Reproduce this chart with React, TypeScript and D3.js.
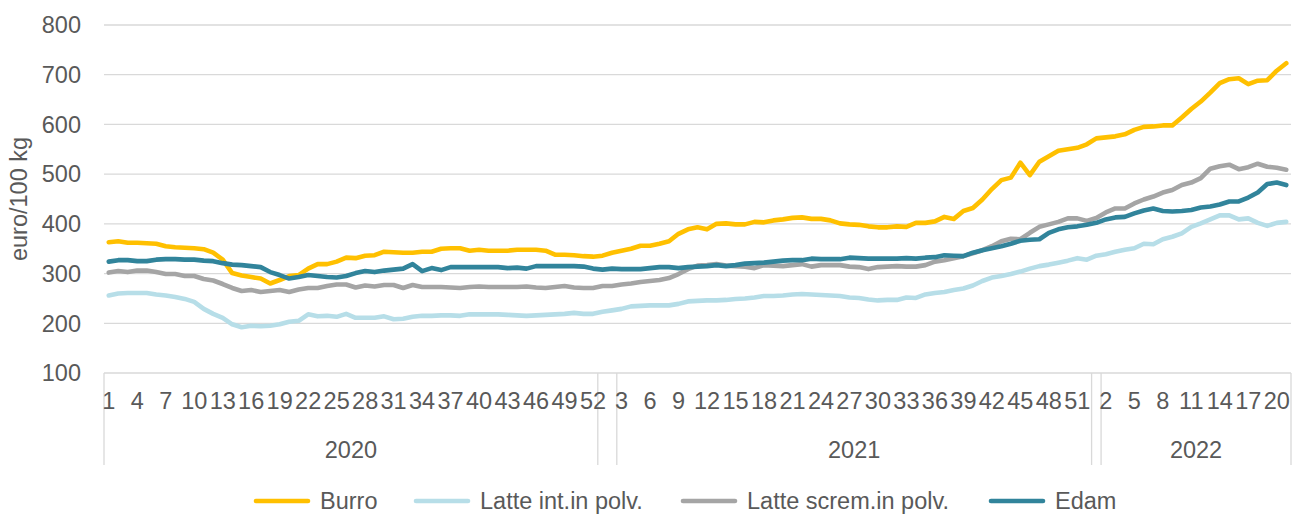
import { useEffect, useRef } from 'react';
import * as d3 from 'd3';

// week labels per year group (the two small unnamed groups sit at the turn of the year)
const weeks2020 = ['1','2','3','4','5','6','7','8','9','10','11','12','13','14','15','16','17','18','19','20','21','22','23','24','25','26','27','28','29','30','31','32','33','34','35','36','37','38','39','40','41','42','43','44','45','46','47','48','49','50','51','52'];
const weeksTurn1 = ['1', '2'];
const weeks2021 = ['3','4','5','6','7','8','9','10','11','12','13','14','15','16','17','18','19','20','21','22','23','24','25','26','27','28','29','30','31','32','33','34','35','36','37','38','39','40','41','42','43','44','45','46','47','48','49','50','51','52'];
const weeksTurn2 = ['1'];
const weeks2022 = ['2','3','4','5','6','7','8','9','10','11','12','13','14','15','16','17','18','19','20','21'];

const yearGroups = [
  { year: '2020', weeks: weeks2020 },
  { year: '', weeks: weeksTurn1 },
  { year: '2021', weeks: weeks2021 },
  { year: '', weeks: weeksTurn2 },
  { year: '2022', weeks: weeks2022 },
];

const yTicks = [100, 200, 300, 400, 500, 600, 700, 800];

const burro = [
  363,365,362,362,361,360,355,353,352,351,349,342,328,301,296,293,290,280,287,295,297,310,319,319,324,332,331,336,337,344,343,342,342,344,344,350,351,351,346,348,346,346,
  346,348,348,348,346,338,338,337,335,334,336,342,346,350,356,356,360,365,380,389,393,389,400,401,399,399,404,403,407,409,412,413,410,410,407,401,399,398,395,393,393,395,
  394,402,402,405,414,410,426,432,449,470,488,493,523,498,525,536,547,550,553,560,572,574,576,580,589,595,596,598,598,614,631,646,664,683,691,693,681,688,689,708,723,
];
const latteInt = [
  256,260,261,261,261,258,256,253,249,243,229,219,211,198,192,195,194,195,198,203,205,218,214,215,213,219,211,211,211,214,208,209,213,215,215,216,216,215,218,218,218,218,
  217,216,215,216,217,218,219,221,219,219,223,226,229,234,235,236,236,236,239,244,245,246,246,247,249,250,252,255,255,256,258,259,258,257,256,255,252,251,248,246,247,247,
  252,251,258,261,263,267,270,276,285,292,295,299,304,310,315,318,322,326,331,328,336,339,344,348,351,360,359,369,374,381,394,401,409,417,417,409,411,402,396,402,404,
];
const latteScrem = [
  302,305,303,306,306,303,299,299,295,295,289,286,279,271,265,267,263,265,267,263,268,271,271,275,278,278,272,276,274,277,277,271,277,273,273,273,272,271,273,274,273,273,
  273,273,274,272,271,273,275,272,271,271,275,275,278,280,283,285,287,291,299,309,316,317,319,316,315,314,311,317,316,315,317,319,314,317,317,317,314,313,309,313,314,315,
  314,314,317,324,327,331,335,341,347,355,365,370,369,382,394,399,404,411,411,406,412,423,431,431,441,449,455,463,468,478,483,492,511,516,519,510,514,521,515,513,509,
];
const edam = [
  324,327,327,325,325,328,329,329,328,328,326,325,321,318,317,315,313,303,297,290,293,297,295,293,292,295,301,305,303,306,308,310,319,305,311,307,313,313,313,313,313,313,
  311,312,310,315,315,315,315,315,314,310,308,310,309,309,309,311,313,313,311,313,314,315,317,315,317,320,321,322,324,326,327,327,330,329,329,329,332,331,330,330,330,330,
  331,330,332,333,337,336,335,342,347,351,355,360,366,368,369,382,389,393,395,398,402,409,413,414,421,427,431,426,425,426,428,433,435,439,445,445,453,463,480,483,478,
];

const series = [
  { name: 'Burro', color: '#FFC000', values: burro },
  { name: 'Latte int.in polv.', color: '#B7DEE8', values: latteInt },
  { name: 'Latte screm.in polv.', color: '#A5A5A5', values: latteScrem },
  { name: 'Edam', color: '#31849B', values: edam },
];

const FONT = '"Liberation Sans", Arial, sans-serif';
const TEXT = '#595959';
const GRID = '#D9D9D9';

export default function App() {
  const svgRef = useRef<SVGSVGElement>(null);

  useEffect(() => {
    if (!svgRef.current) return;
    const svg = d3.select(svgRef.current);
    svg.selectAll('*').remove();

    const width = 1293;
    const height = 514;
    const left = 104;
    const right = 1291;
    const top = 25;
    const bottom = 373;

    const weeks = yearGroups.flatMap(g => g.weeks);
    const n = weeks.length;

    const x = d3.scaleBand<number>().domain(d3.range(n)).range([left, right]);
    const cx = (i: number) => (x(i) as number) + x.bandwidth() / 2;
    const y = d3.scaleLinear().domain([100, 800]).range([bottom, top]);

    // gridlines
    svg.append('g')
      .selectAll('line')
      .data(yTicks)
      .enter()
      .append('line')
      .attr('x1', left)
      .attr('x2', right)
      .attr('y1', d => y(d))
      .attr('y2', d => y(d))
      .attr('stroke', GRID)
      .attr('stroke-width', 1.3);

    // y tick labels
    svg.append('g')
      .selectAll('text')
      .data(yTicks)
      .enter()
      .append('text')
      .attr('x', 81)
      .attr('y', d => y(d))
      .attr('dy', '0.35em')
      .attr('text-anchor', 'end')
      .attr('font-family', FONT)
      .attr('font-size', 23.5)
      .attr('fill', TEXT)
      .text(d => d);

    // y axis title
    svg.append('text')
      .attr('transform', `translate(27, ${(top + bottom) / 2}) rotate(-90)`)
      .attr('text-anchor', 'middle')
      .attr('font-family', FONT)
      .attr('font-size', 23.5)
      .attr('fill', TEXT)
      .text('euro/100 kg');

    // group separators on the category axis
    const bounds: number[] = [0];
    yearGroups.forEach(g => bounds.push(bounds[bounds.length - 1] + g.weeks.length));
    svg.append('g')
      .selectAll('line')
      .data(bounds)
      .enter()
      .append('line')
      .attr('x1', d => (d < n ? (x(d) as number) : right))
      .attr('x2', d => (d < n ? (x(d) as number) : right))
      .attr('y1', bottom)
      .attr('y2', 465)
      .attr('stroke', GRID)
      .attr('stroke-width', 1.3);

    // week labels, every third category
    svg.append('g')
      .selectAll('text')
      .data(weeks.map((w, i) => ({ w, i })).filter(d => d.i % 3 === 0))
      .enter()
      .append('text')
      .attr('x', d => cx(d.i))
      .attr('y', 401)
      .attr('dy', '0.35em')
      .attr('text-anchor', 'middle')
      .attr('font-family', FONT)
      .attr('font-size', 23.5)
      .attr('fill', TEXT)
      .text(d => d.w);

    // year labels
    yearGroups.forEach((g, k) => {
      if (!g.year) return;
      const x0 = x(bounds[k]) as number;
      const x1 = bounds[k + 1] < n ? (x(bounds[k + 1]) as number) : right;
      svg.append('text')
        .attr('x', (x0 + x1) / 2)
        .attr('y', 450)
        .attr('dy', '0.35em')
        .attr('text-anchor', 'middle')
        .attr('font-family', FONT)
        .attr('font-size', 23.5)
        .attr('fill', TEXT)
        .text(g.year);
    });

    // lines
    const line = d3.line<number>()
      .x((_, i) => cx(i))
      .y(d => y(d));

    series.forEach(s => {
      svg.append('path')
        .datum(s.values)
        .attr('d', line)
        .attr('fill', 'none')
        .attr('stroke', s.color)
        .attr('stroke-width', 4.6)
        .attr('stroke-linejoin', 'round')
        .attr('stroke-linecap', 'round');
    });

    // legend
    const legendX = [254, 414, 681, 989];
    const legend = svg.append('g').attr('transform', 'translate(0, 501)');
    series.forEach((s, i) => {
      legend.append('line')
        .attr('x1', legendX[i] + 2)
        .attr('x2', legendX[i] + 54)
        .attr('stroke', s.color)
        .attr('stroke-width', 4.6)
        .attr('stroke-linecap', 'round');
      legend.append('text')
        .attr('x', legendX[i] + 66)
        .attr('dy', '0.35em')
        .attr('font-family', FONT)
        .attr('font-size', 23.5)
        .attr('fill', TEXT)
        .text(s.name);
    });

    svg.attr('width', width).attr('height', height);
  }, []);

  return (
    <svg
      ref={svgRef}
      width={1293}
      height={514}
      style={{ position: 'absolute', left: 0, top: 0, background: '#fff' }}
    />
  );
}
